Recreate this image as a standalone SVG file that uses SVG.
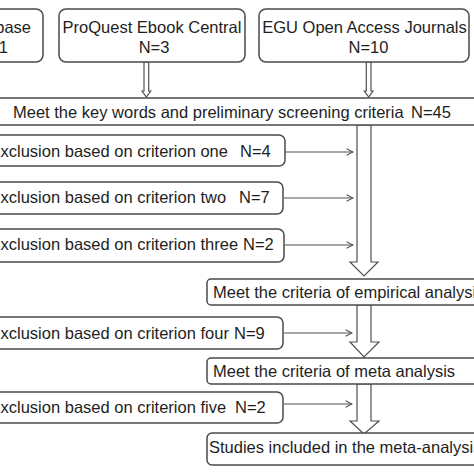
<svg xmlns="http://www.w3.org/2000/svg" width="474" height="474" viewBox="0 0 474 474">
<defs>
<style>
.box{fill:#fff;stroke:#4a4a4a;stroke-width:1.5}
.t{font-family:"Liberation Sans",Arial,sans-serif;font-size:16.5px;fill:#1e1e1e}
.c{text-anchor:middle}
.ln{fill:none;stroke:#505050;stroke-width:1.2}
.ha{fill:#fff;stroke:#505050;stroke-width:1.2;stroke-linejoin:miter}
</style>
<marker id="open" viewBox="0 0 10 10" refX="9" refY="5" markerWidth="8" markerHeight="8" markerUnits="userSpaceOnUse" orient="auto">
<path d="M1,1 L9,5 L1,9" fill="none" stroke="#505050" stroke-width="1.3"/>
</marker>
</defs>
<rect width="474" height="474" fill="#fff"/>
<g id="connectors">
<polygon class="ha" points="144,62 148.7,62 148.7,91 150.7,91 146.3,97 142,91 144,91"/>
<polygon class="ha" points="366.3,62 371,62 371,91 373,91 368.7,97 364.3,91 366.3,91"/>
<polygon class="ha" points="357,125 371,125 371,262 378,262 364,276 350,262 357,262"/>
<polygon class="ha" points="357,305 371,305 371,342 379,342 364,357 350,342 357,342"/>
<polygon class="ha" points="357,384 371,384 371,421 379,421 364,434 350,421 357,421"/>
<line class="ln" x1="285" y1="152" x2="353" y2="152" marker-end="url(#open)"/>
<line class="ln" x1="284" y1="198" x2="353" y2="198" marker-end="url(#open)"/>
<line class="ln" x1="285" y1="245" x2="353" y2="245" marker-end="url(#open)"/>
<line class="ln" x1="284" y1="333" x2="352" y2="333" marker-end="url(#open)"/>
<line class="ln" x1="284" y1="404" x2="352" y2="404" marker-end="url(#open)"/>
</g>
<g id="db1">
<rect class="box" x="-20" y="9" width="63" height="53" rx="7"/>
<text class="t" x="31" y="33" text-anchor="end">base</text>
<text class="t" x="8" y="53" text-anchor="end">1</text>
</g>
<g id="proquest">
<rect class="box" x="59" y="9" width="186" height="53" rx="7"/>
<text class="t c" x="152" y="33">ProQuest Ebook Central</text>
<text class="t c" x="154" y="53">N=3</text>
</g>
<g id="egu">
<rect class="box" x="259" y="9" width="210" height="53" rx="7"/>
<text class="t c" x="364.5" y="33">EGU Open Access Journals</text>
<text class="t c" x="368.5" y="53">N=10</text>
</g>
<g id="screening">
<rect class="box" x="-5" y="98" width="485" height="27" rx="3"/>
<text class="t" x="13" y="118">Meet the key words and preliminary screening criteria <tspan x="411">N=45</tspan></text>
</g>
<g id="excl1">
<rect class="box" x="-20" y="135" width="305" height="31" rx="6"/>
<text class="t" x="-10.5" y="157">Exclusion based on criterion one <tspan x="240">N=4</tspan></text>
</g>
<g id="excl2">
<rect class="box" x="-20" y="182" width="303" height="32" rx="6"/>
<text class="t" x="-10.5" y="203">Exclusion based on criterion two <tspan x="239">N=7</tspan></text>
</g>
<g id="excl3">
<rect class="box" x="-20" y="229" width="304" height="33" rx="6"/>
<text class="t" x="-10.5" y="250">Exclusion based on criterion three <tspan x="243">N=2</tspan></text>
</g>
<g id="empirical">
<rect class="box" x="207" y="279" width="280" height="26" rx="4"/>
<text class="t" x="213" y="298">Meet the criteria of empirical analysis</text>
</g>
<g id="excl4">
<rect class="box" x="-20" y="317" width="303" height="32" rx="6"/>
<text class="t" x="-10.5" y="339">Exclusion based on criterion four <tspan x="234">N=9</tspan></text>
</g>
<g id="meta">
<rect class="box" x="207" y="358" width="280" height="26" rx="4"/>
<text class="t" x="213" y="377">Meet the criteria of meta analysis</text>
</g>
<g id="excl5">
<rect class="box" x="-20" y="392" width="303" height="31" rx="6"/>
<text class="t" x="-10.5" y="413">Exclusion based on criterion five <tspan x="235">N=2</tspan></text>
</g>
<g id="included">
<rect class="box" x="207" y="433" width="280" height="32" rx="5"/>
<text class="t" x="209" y="453">Studies included in the meta-analysis</text>
</g>
</svg>
